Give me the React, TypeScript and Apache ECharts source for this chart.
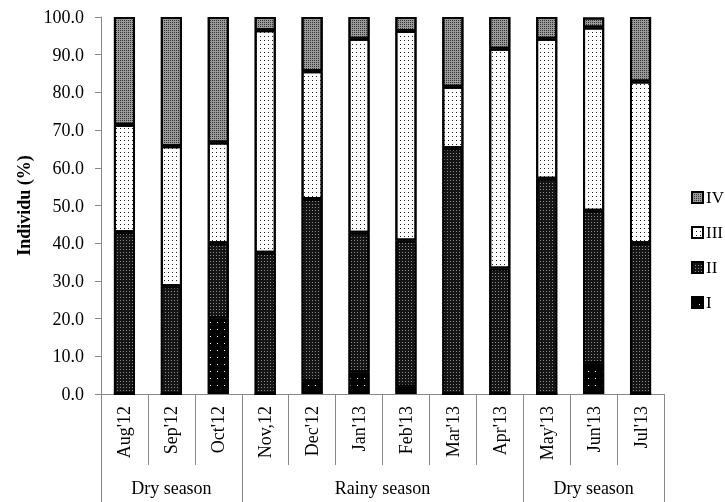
import React, { useEffect, useRef } from "react";
import * as echarts from "echarts";

const months = ["Aug'12", "Sep'12", "Oct'12", "Nov,12", "Dec'12", "Jan'13", "Feb'13", "Mar'13", "Apr'13", "May'13", "Jun'13", "Jul'13"];
const stageI = [0, 0, 20.0, 0, 3.4, 5.7, 1.9, 0, 0, 0, 8.1, 0];
const stageII = [42.9, 28.6, 20.0, 37.5, 48.3, 37.1, 38.8, 65.2, 33.3, 57.1, 40.5, 40.0];
const stageIII = [28.5, 37.1, 26.7, 59.0, 33.9, 51.4, 55.6, 16.3, 58.3, 37.1, 48.6, 42.9];
const stageIV = [28.6, 34.3, 33.3, 3.5, 14.4, 5.8, 3.7, 18.5, 8.4, 5.8, 2.7, 17.1];
const yTicks = [0, 10, 20, 30, 40, 50, 60, 70, 80, 90, 100];
const seasons = [
  { label: "Dry season", from: 0, to: 3 },
  { label: "Rainy season", from: 3, to: 9 },
  { label: "Dry season", from: 9, to: 12 },
];

const FONT = "'Liberation Serif', 'Times New Roman', serif";

export default function App() {
  const ref = useRef<HTMLDivElement>(null);
  useEffect(() => {
    if (!ref.current) return;
    const chart = echarts.init(ref.current, undefined, { renderer: "svg" });

    // season axis built on half-category points (0..24)
    const halfCount = months.length * 2;
    const seasonData: string[] = [];
    const labelIdx: Record<number, string> = {};
    const boundaryIdx = new Set<number>();
    seasons.forEach((s) => {
      labelIdx[s.from + s.to] = s.label;
      boundaryIdx.add(s.from * 2);
      boundaryIdx.add(s.to * 2);
    });
    for (let i = 0; i <= halfCount; i++) seasonData.push(labelIdx[i] || "");

    const border = { borderColor: "#000", borderWidth: 2 };
    const mk = (name: string, data: number[], color: string, decal: any) => ({
      name,
      type: "bar",
      stack: "total",
      data,
      barWidth: "45%",
      itemStyle: { color, ...border, decal },
    });

    chart.setOption({
      animation: false,
      textStyle: { fontFamily: FONT },
      grid: { left: 101, right: 61, top: 17, bottom: 108, containLabel: false },
      legend: {
        orient: "vertical",
        left: 686,
        top: 184,
        itemGap: 18,
        itemWidth: 11,
        itemHeight: 11,
        icon: "rect",
        data: ["IV", "III", "II", "I"],
        textStyle: { fontFamily: FONT, fontSize: 17, color: "#000", padding: [0, 0, 0, -2] },
      },
      xAxis: [
        {
          type: "category",
          data: months,
          axisLine: { lineStyle: { color: "#888", width: 1 } },
          axisTick: { show: true, length: 71, lineStyle: { color: "#888" } },
          axisLabel: { rotate: 90, margin: 12, fontFamily: FONT, fontSize: 18, color: "#000" },
        },
        {
          type: "category",
          boundaryGap: false,
          data: seasonData,
          position: "bottom",
          offset: 0,
          axisLine: { show: false },
          axisTick: {
            show: true,
            length: 108,
            interval: (i: number) => boundaryIdx.has(i),
            lineStyle: { color: "#888" },
          },
          axisLabel: {
            interval: (i: number) => !!labelIdx[i],
            margin: 85,
            fontFamily: FONT,
            fontSize: 18,
            color: "#000",
          },
          splitLine: { show: false },
        },
      ],
      yAxis: {
        type: "value",
        min: yTicks[0],
        max: yTicks[yTicks.length - 1],
        interval: 10,
        name: "Individu (%)",
        nameLocation: "middle",
        nameGap: 66,
        nameTextStyle: { fontFamily: FONT, fontSize: 18, fontWeight: "bold", color: "#000" },
        axisLine: { show: true, lineStyle: { color: "#888" } },
        axisTick: { show: true, length: 6, lineStyle: { color: "#888" } },
        axisLabel: { margin: 17, fontFamily: FONT, fontSize: 18, color: "#000", formatter: (v: number) => v.toFixed(1) },
        splitLine: { show: false },
      },
      series: [
        mk("I", stageI, "#000", { symbol: "rect", symbolSize: 1, color: "#fff", dashArrayX: [1, 6], dashArrayY: [1, 6] }),
        mk("II", stageII, "#151515", { symbol: "rect", symbolSize: 1, color: "#8a8a8a", dashArrayX: [1, 2], dashArrayY: [1, 2] }),
        mk("III", stageIII, "#fff", { symbol: "rect", symbolSize: 1, color: "#222", dashArrayX: [1, 3], dashArrayY: [1, 3] }),
        mk("IV", stageIV, "#9a9a9a", { symbol: "rect", symbolSize: 1, color: "#333", dashArrayX: [1, 1], dashArrayY: [1, 1] }),
      ],
    });
    return () => chart.dispose();
  }, []);
  return <div ref={ref} style={{ position: "fixed", left: 0, top: 0, width: 725, height: 502 }} />;
}
